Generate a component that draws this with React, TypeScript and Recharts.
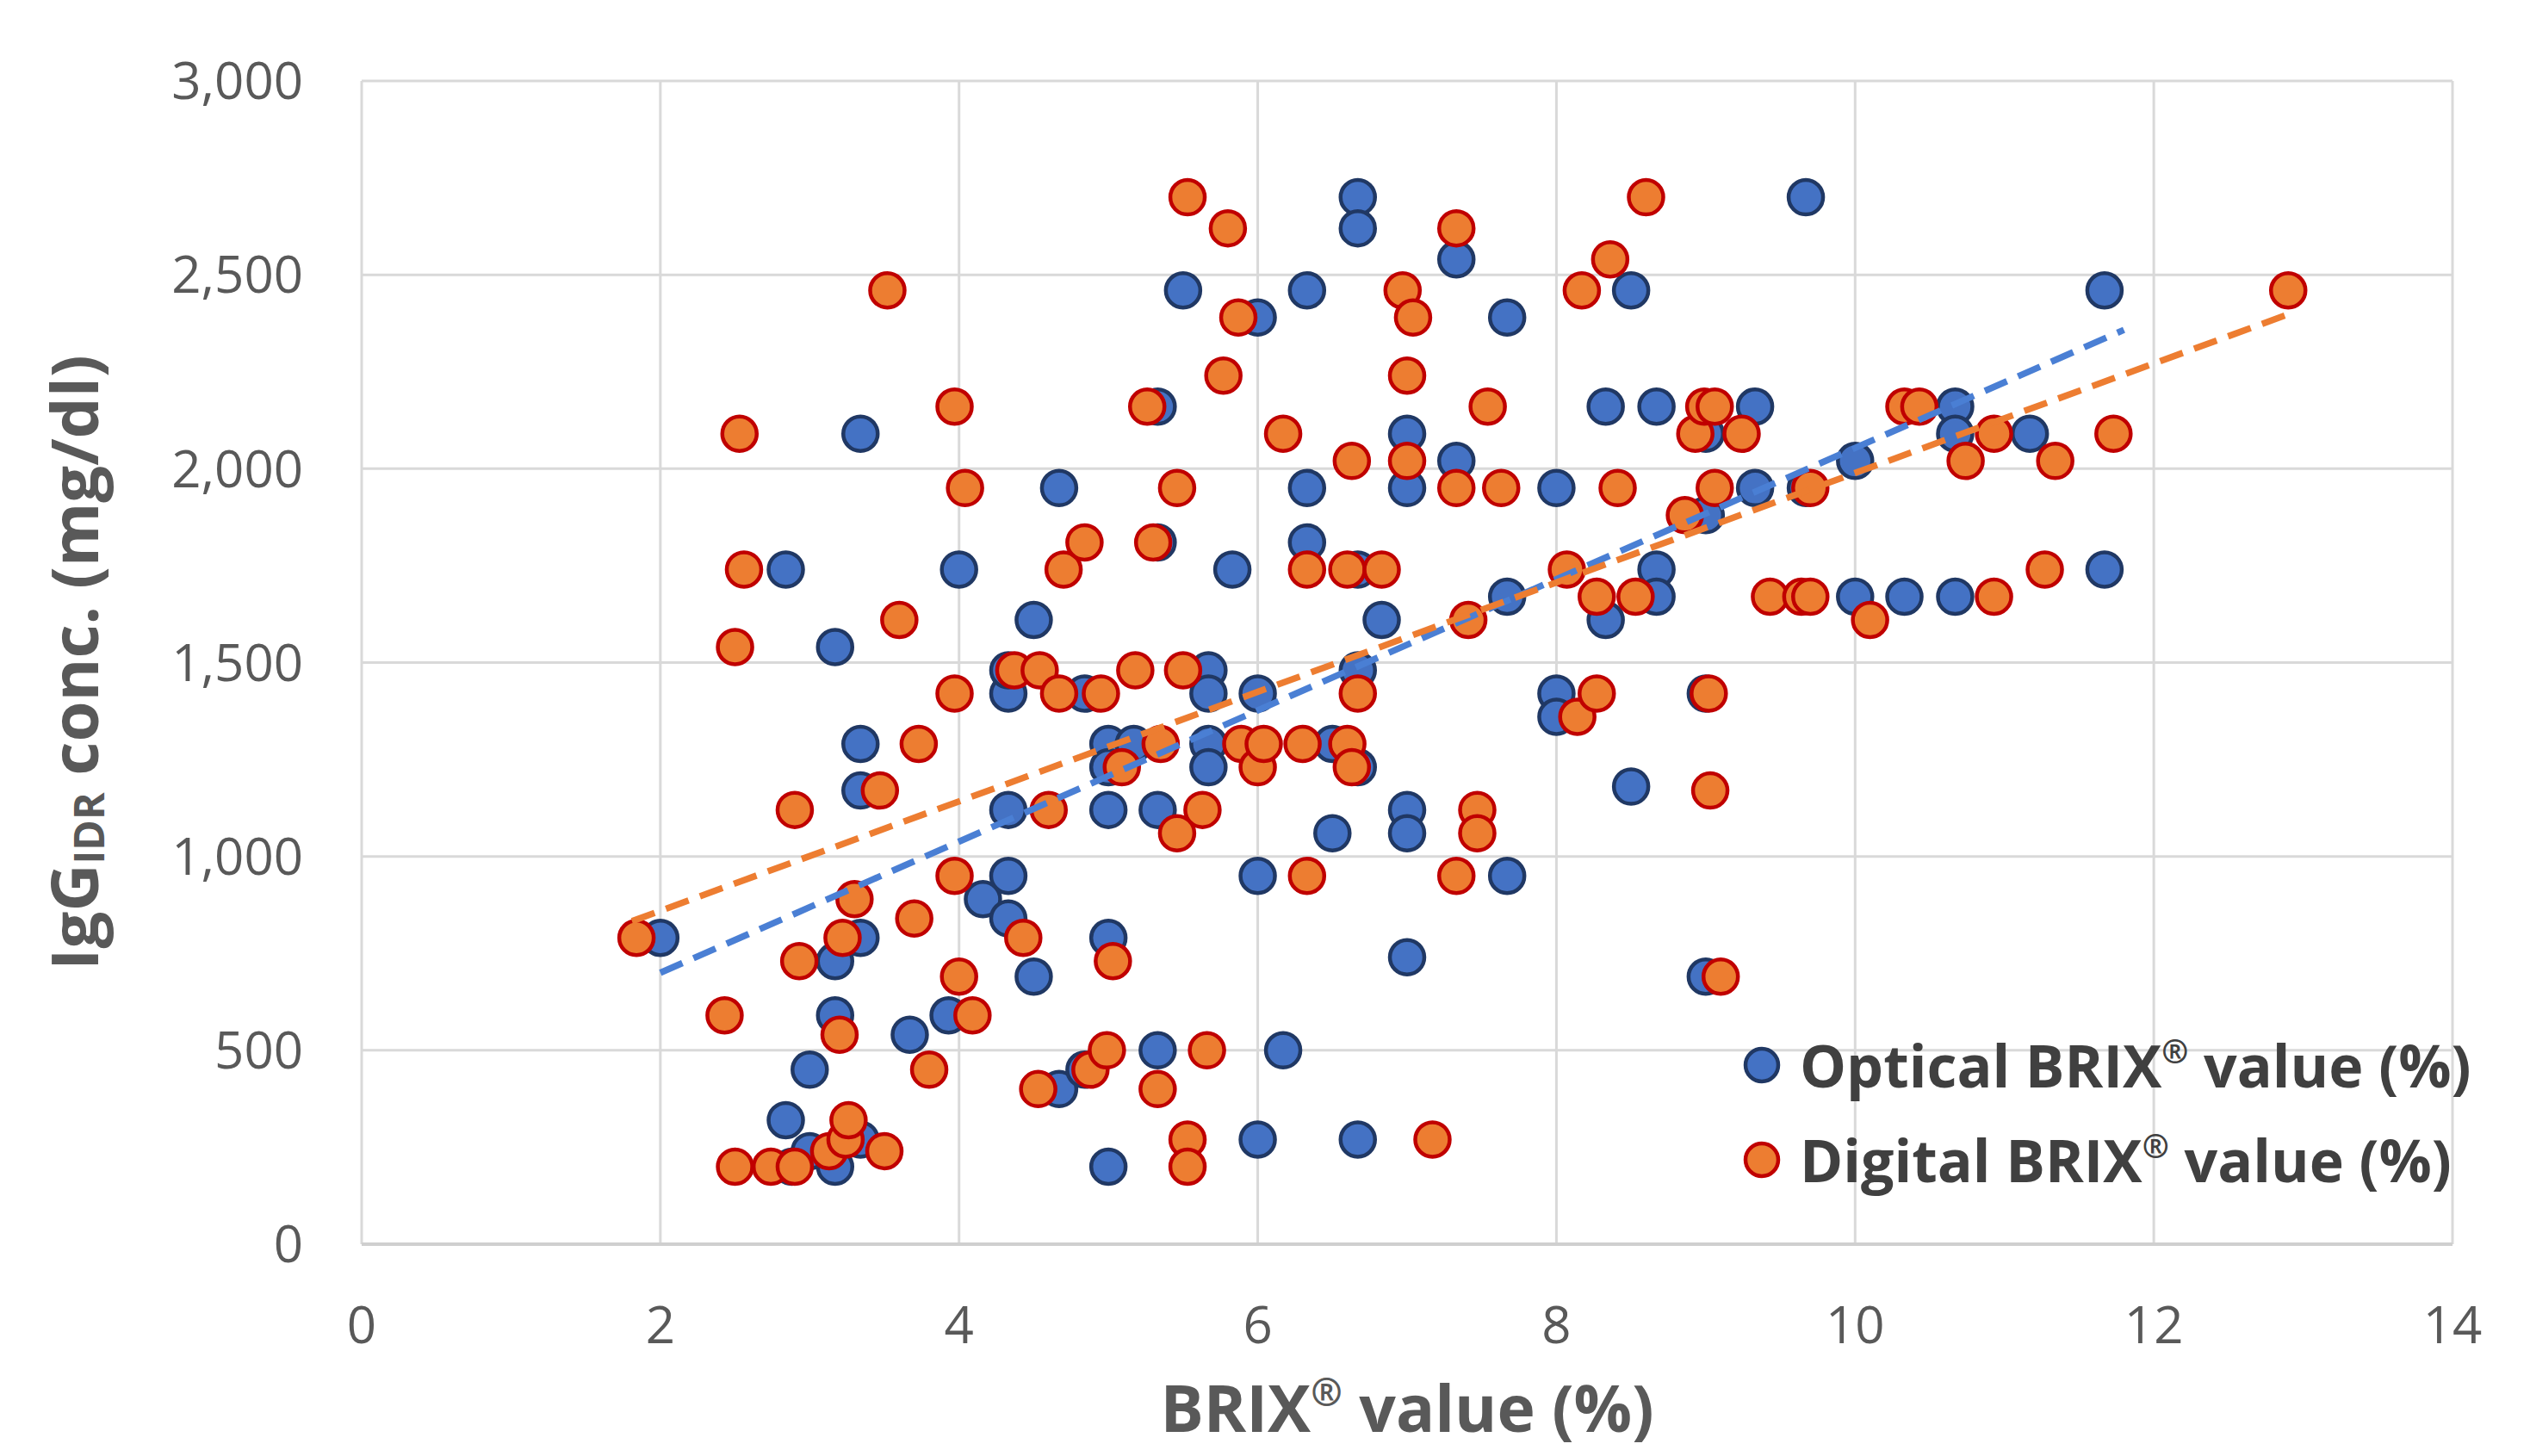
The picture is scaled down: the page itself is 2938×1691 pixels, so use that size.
import React from "react";
import {
  ScatterChart,
  Scatter,
  XAxis,
  YAxis,
  CartesianGrid,
  Legend,
} from "recharts";

// Optical refractometer readings (BRIX %) and matching IgG (mg/dl)
const opticalBrix = [
  2.0, 2.84, 3.17, 3.34, 3.34, 3.34, 3.17, 3.34, 3.17, 3.0, 2.84, 3.0, 3.17, 3.34, 2.88,
  3.67, 3.93, 4.0, 4.16, 4.33, 4.33, 4.33, 4.33, 4.33, 4.5, 4.5, 4.67, 4.67, 4.84, 4.84,
  5.0, 5.0, 5.0, 5.0, 5.0, 5.17, 5.33, 5.33, 5.33, 5.33, 5.5, 5.67, 5.67, 5.67, 5.67,
  5.83, 6.0, 6.0, 6.0, 6.0, 6.17, 6.33, 6.33, 6.33, 6.5, 6.5, 6.67, 6.67, 6.67, 6.67,
  6.67, 6.67, 6.83, 7.0, 7.0, 7.0, 7.0, 7.0, 7.33, 7.33, 7.67, 7.67, 7.67, 8.0, 8.0,
  8.0, 8.33, 8.33, 8.5, 8.5, 8.67, 8.67, 8.67, 9.0, 9.0, 9.0, 9.0, 9.33, 9.33, 9.67,
  9.67, 10.0, 10.0, 10.33, 10.67, 10.67, 10.67, 11.17, 11.67, 11.67,
];
const opticalIgg = [
  790, 1740, 1540, 2090, 1290, 1170, 730, 790, 590, 450, 320, 240, 200, 270, 200,
  540, 590, 1740, 890, 840, 950, 1120, 1420, 1480, 1610, 690, 1950, 400, 1420, 450,
  1290, 1230, 1120, 790, 200, 1290, 2160, 1810, 1120, 500, 2460, 1480, 1420, 1290, 1230,
  1740, 2390, 1420, 950, 270, 500, 2460, 1950, 1810, 1290, 1060, 2700, 2620, 1740, 1480,
  1230, 270, 1610, 2090, 1950, 1120, 1060, 740, 2540, 2020, 2390, 1670, 950, 1950, 1420,
  1360, 2160, 1610, 2460, 1180, 2160, 1740, 1670, 1880, 1420, 690, 2090, 2160, 1950, 2700,
  1950, 2020, 1670, 1670, 2160, 2090, 1670, 2090, 2460, 1740,
];

// Digital refractometer readings (BRIX %) and matching IgG (mg/dl)
const digitalBrix = [
  1.84, 2.43, 2.5, 2.5, 2.56, 2.53, 2.74, 2.9, 2.93, 2.9, 3.13, 3.2, 3.22, 3.24, 3.26,
  3.3, 3.5, 3.47, 3.52, 3.6, 3.73, 3.7, 3.8, 3.97, 3.97, 3.97, 4.0, 4.04, 4.09, 4.37,
  4.43, 4.54, 4.53, 4.6, 4.67, 4.7, 4.84, 4.88, 4.95, 4.99, 5.03, 5.09, 5.18, 5.26, 5.3,
  5.35, 5.33, 5.46, 5.46, 5.5, 5.53, 5.53, 5.53, 5.63, 5.66, 5.77, 5.8, 5.87, 5.89, 6.0,
  6.04, 6.17, 6.3, 6.33, 6.33, 6.63, 6.6, 6.6, 6.63, 6.67, 6.83, 6.97, 7.0, 7.0, 7.04,
  7.17, 7.33, 7.33, 7.33, 7.41, 7.47, 7.47, 7.54, 7.63, 8.07, 8.14, 8.17, 8.27, 8.27, 8.36,
  8.41, 8.53, 8.6, 8.86, 8.93, 8.99, 9.02, 9.03, 9.06, 9.06, 9.1, 9.24, 9.43, 9.64, 9.7,
  9.7, 10.1, 10.33, 10.43, 10.74, 10.93, 10.93, 11.27, 11.34, 11.73, 12.9,
];
const digitalIgg = [
  790, 590, 200, 1540, 1740, 2090, 200, 1120, 730, 200, 240, 540, 790, 270, 320,
  890, 240, 1170, 2460, 1610, 1290, 840, 450, 2160, 1420, 950, 690, 1950, 590, 1480,
  790, 1480, 400, 1120, 1420, 1740, 1810, 450, 1420, 500, 730, 1230, 1480, 2160, 1810,
  1290, 400, 1060, 1950, 1480, 2700, 270, 200, 1120, 500, 2240, 2620, 2390, 1290, 1230,
  1290, 2090, 1290, 1740, 950, 2020, 1740, 1290, 1230, 1420, 1740, 2460, 2240, 2020, 2390,
  270, 2620, 1950, 950, 1610, 1120, 1060, 2160, 1950, 1740, 1360, 2460, 1670, 1420, 2540,
  1950, 1670, 2700, 1880, 2090, 2160, 1420, 1170, 1950, 2160, 690, 2090, 1670, 1670, 1670,
  1950, 1610, 2160, 2160, 2020, 2090, 1670, 1740, 2020, 2090, 2460,
];

// linear trend lines, end points
const opticalTrendBrix = [2.0, 11.8];
const opticalTrendIgg = [700, 2358];
const digitalTrendBrix = [1.81, 12.92];
const digitalTrendIgg = [833, 2401];

const seriesNames = ["Optical BRIX® value (%)", "Digital BRIX® value (%)"];
const xTicks = [0, 2, 4, 6, 8, 10, 12, 14];
const yTicks = [0, 500, 1000, 1500, 2000, 2500, 3000];

const toPoints = (xs: number[], ys: number[]) => xs.map((x, i) => ({ x, y: ys[i] }));

const opticalData = toPoints(opticalBrix, opticalIgg);
const digitalData = toPoints(digitalBrix, digitalIgg);
const opticalTrend = toPoints(opticalTrendBrix, opticalTrendIgg);
const digitalTrend = toPoints(digitalTrendBrix, digitalTrendIgg);

const FONT = "'Open Sans', 'Noto Sans', sans-serif";
const GREY = "#595959";

const BLUE = "#4472C4";
const BLUE_EDGE = "#203864";
const ORANGE = "#ED7D31";
const ORANGE_EDGE = "#C00000";

const dot = (fill: string, stroke: string) => (props: any) =>
  <circle cx={props.cx} cy={props.cy} r={20} fill={fill} stroke={stroke} strokeWidth={4.5} />;

const noDot = () => <g />;

const YTitle = (props: any) => {
  const vb = props.viewBox;
  const cx = vb.x + 84;
  const cy = vb.y + vb.height / 2;
  return (
    <text
      x={cx}
      y={cy}
      transform={`rotate(-90 ${cx} ${cy})`}
      textAnchor="middle"
      dominantBaseline="central"
      fontFamily={FONT}
      fontWeight={700}
      fontSize={76}
      fill={GREY}
    >
      IgG
      <tspan fontSize={48} dy={18}>IDR</tspan>
      <tspan dy={-18}> conc. (mg/dl)</tspan>
    </text>
  );
};

const XTitle = (props: any) => {
  const vb = props.viewBox;
  return (
    <text
      x={vb.x + vb.width / 2}
      y={vb.y + 218}
      textAnchor="middle"
      fontFamily={FONT}
      fontWeight={700}
      fontSize={75}
      fill={GREY}
    >
      BRIX
      <tspan fontSize={44} dy={-30}>®</tspan>
      <tspan dy={30}> value (%)</tspan>
    </text>
  );
};

const LegendBox = (props: any) => {
  const items = (props.payload || [])
    .filter((p: any) => seriesNames.includes(p.value))
    .sort((a: any, b: any) => seriesNames.indexOf(a.value) - seriesNames.indexOf(b.value));
  return (
    <div style={{ fontFamily: FONT }}>
      {items.map((p: any) => {
        const [before, after] = String(p.value).split("®");
        const fill = p.payload?.fill ?? p.color;
        const stroke = p.payload?.stroke ?? "#000";
        return (
          <div
            key={p.value}
            style={{ display: "flex", alignItems: "center", height: 110, whiteSpace: "nowrap" }}
          >
            <svg width={46} height={46}>
              <circle cx={23} cy={23} r={19} fill={fill} stroke={stroke} strokeWidth={4.5} />
            </svg>
            <span
              style={{
                marginLeft: 21,
                fontSize: 68,
                fontWeight: 700,
                color: "#404040",
                lineHeight: 1,
              }}
            >
              {before}
              <span style={{ fontSize: "0.55em", position: "relative", top: "-0.75em" }}>®</span>
              {after}
            </span>
          </div>
        );
      })}
    </div>
  );
};

export default function App() {
  return (
    <div style={{ position: "absolute", left: 0, top: 0, background: "#fff" }}>
      <ScatterChart
        width={2938}
        height={1691}
        margin={{ top: 94, right: 90, bottom: 0, left: 0 }}
      >
        <CartesianGrid stroke="#D9D9D9" strokeWidth={3} />
        <XAxis
          type="number"
          dataKey="x"
          domain={[0, 14]}
          ticks={xTicks}
          height={246}
          axisLine={{ stroke: "#CFCFCF", strokeWidth: 4 }}
          tickLine={false}
          tickSize={0}
          tickMargin={72}
          tick={{ fontSize: 60, fill: GREY, fontFamily: FONT }}
          label={{ content: XTitle }}
        />
        <YAxis
          type="number"
          dataKey="y"
          domain={[0, 3000]}
          ticks={yTicks}
          width={420}
          axisLine={false}
          tickLine={false}
          tickSize={0}
          tickMargin={68}
          tick={{ fontSize: 60, fill: GREY, fontFamily: FONT }}
          tickFormatter={(v: number) => v.toLocaleString("en-US")}
          label={{ content: YTitle }}
        />
        <Scatter
          name={seriesNames[0]}
          data={opticalData}
          fill={BLUE}
          stroke={BLUE_EDGE}
          shape={dot(BLUE, BLUE_EDGE)}
          isAnimationActive={false}
        />
        <Scatter
          name={seriesNames[1]}
          data={digitalData}
          fill={ORANGE}
          stroke={ORANGE_EDGE}
          shape={dot(ORANGE, ORANGE_EDGE)}
          isAnimationActive={false}
        />
        <Scatter
          data={opticalTrend}
          legendType="none"
          line={{ stroke: "#4A7FD4", strokeWidth: 7.5, strokeDasharray: "28 14" }}
          shape={noDot}
          isAnimationActive={false}
        />
        <Scatter
          data={digitalTrend}
          legendType="none"
          line={{ stroke: ORANGE, strokeWidth: 7.5, strokeDasharray: "28 14" }}
          shape={noDot}
          isAnimationActive={false}
        />
        <Legend
          layout="vertical"
          align="center"
          verticalAlign="middle"
          content={LegendBox}
          wrapperStyle={{ left: 2023, top: 1182, width: 900, height: 220 }}
        />
      </ScatterChart>
    </div>
  );
}
